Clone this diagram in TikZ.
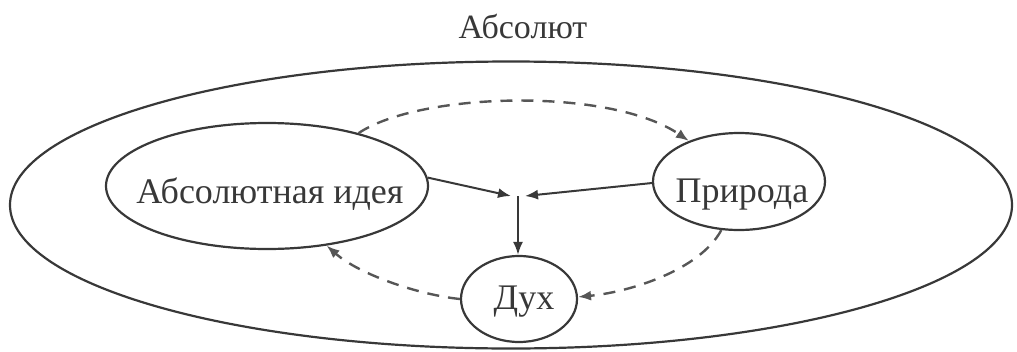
\documentclass[tikz,border=0pt]{standalone}
\usepackage{fontspec}
\setmainfont{Liberation Serif}
\usetikzlibrary{shapes.geometric,arrows.meta}
\definecolor{ink}{HTML}{383838}
\begin{document}
\begin{tikzpicture}[x=1pt,y=-1pt,
  oval/.style={draw=ink,line width=2.2pt,ellipse,inner sep=0pt},
  lbl/.style={anchor=base,inner sep=0pt,text=ink,font=\fontsize{36}{40}\selectfont},
  solidarrow/.style={draw=ink,line width=2pt,-{Latex[length=13pt,width=10pt]}},
  dasharrow/.style={draw=ink!85,line width=2.4pt,dash pattern=on 12pt off 9pt,-{Latex[length=13pt,width=10pt]}}]
\useasboundingbox (0,0) rectangle (1017,351);
% outer ellipse
\node[oval,minimum width=1002pt,minimum height=287pt] (abs) at (511,205) {};
\node[lbl,font=\fontsize{34}{38}\selectfont] (title) at (523,38) {Абсолют};
% inner ellipses
\node[oval,minimum width=322pt,minimum height=126pt] (ai) at (267,186) {};
\node[lbl] (tai) at (270,203) {Абсолютная идея};
\node[oval,minimum width=172pt,minimum height=97pt] (pr) at (739,181.5) {};
\node[lbl] (tpr) at (742,202) {Природа};
\node[oval,minimum width=116pt,minimum height=86pt] (dx) at (519,299) {};
\node[lbl] (tdx) at (524,309) {Дух};
% junction
\coordinate (J) at (518,196);
\coordinate (JL) at (511,196);
\coordinate (JR) at (525,196);
\draw[solidarrow] (ai.3) -- (JL);
\draw[solidarrow] (pr.181) -- (JR);
\draw[solidarrow] (J) -- (J |- dx.north);
% dashed cycle
\draw[dasharrow] (ai.30) .. controls (420,92) and (610,87) .. (pr.141);
\draw[dasharrow] (pr.-110) .. controls (700,270) and (630,292) .. (dx.2);
\draw[dasharrow] (dx.180) .. controls (420,295) and (360,275) .. (ai.-45);
\end{tikzpicture}
\end{document}
